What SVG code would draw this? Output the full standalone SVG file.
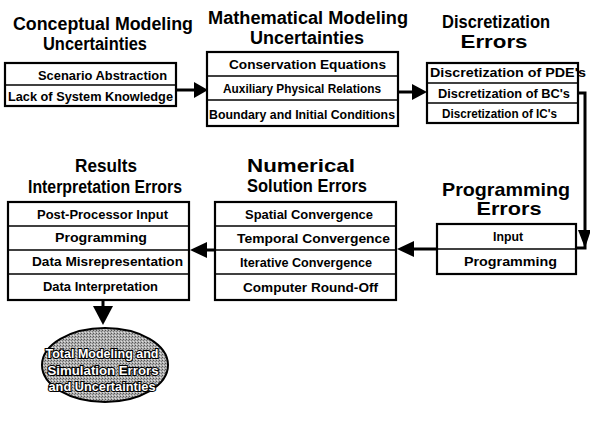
<svg xmlns="http://www.w3.org/2000/svg" width="590" height="423" viewBox="0 0 590 423">
  <style>
    .title { font-family: "Liberation Sans", Arial, sans-serif; font-weight: bold; font-size: 18px; fill: #000; text-anchor: middle; }
    .big { font-size: 19px; }
    .row { font-family: "Liberation Sans", Arial, sans-serif; font-weight: bold; font-size: 13px; fill: #000; }
    .box { fill: #fff; stroke: #000; stroke-width: 2.2; }
    .div { stroke: #000; stroke-width: 1.6; fill: none; }
    .wire { stroke: #000; stroke-width: 3; fill: none; }
    .head { fill: #000; }
    .oval-text { font-family: "Liberation Sans", Arial, sans-serif; font-weight: bold; font-size: 13px; fill: #fff; stroke: #000; stroke-width: 2.2; paint-order: stroke; text-anchor: middle; }
  </style>
  <defs>
    <pattern id="grain" width="3" height="3" patternUnits="userSpaceOnUse">
      <rect width="3" height="3" fill="#b0b0b0"/>
      <rect x="0" y="0" width="1" height="1" fill="#555"/>
      <rect x="2" y="1" width="1" height="1" fill="#777"/>
      <rect x="1" y="2" width="1" height="1" fill="#e0e0e0"/>
    </pattern>
  </defs>
  <rect width="590" height="423" fill="#fff"/>

  <!-- connectors -->
  <g id="connectors">
    <line class="wire" x1="176" y1="90" x2="196" y2="90"/>
    <polygon class="head" points="194,82 208,90 194,98"/>
    <line class="wire" x1="398" y1="92" x2="414" y2="92"/>
    <polygon class="head" points="412,84 427,92 412,100"/>
    <path class="wire" d="M578 93 H585 V248 H576"/>
    <polygon class="head" points="578,230 591,230 585,248"/>
    <line class="wire" x1="437" y1="249" x2="412" y2="249"/>
    <polygon class="head" points="414,241 397,249 414,257"/>
    <line class="wire" x1="215" y1="250" x2="205" y2="250"/>
    <polygon class="head" points="207,242 190,250 207,258"/>
    <line class="wire" x1="103" y1="300" x2="103" y2="308"/>
    <polygon class="head" points="93,306 113,306 103,325"/>
  </g>

  <!-- conceptual modeling -->
  <g id="conceptual">
    <text class="title" x="103" y="30" textLength="180" lengthAdjust="spacingAndGlyphs">Conceptual Modeling</text>
    <text class="title" x="95" y="50" textLength="104" lengthAdjust="spacingAndGlyphs">Uncertainties</text>
    <rect class="box" x="5" y="63" width="171" height="43"/>
    <line class="div" x1="5" y1="85" x2="176" y2="85"/>
    <text class="row" x="38" y="80" textLength="129" lengthAdjust="spacingAndGlyphs">Scenario Abstraction</text>
    <text class="row" x="8" y="101" textLength="165" lengthAdjust="spacingAndGlyphs">Lack of System Knowledge</text>
  </g>

  <!-- mathematical modeling -->
  <g id="mathematical">
    <text class="title" x="308" y="24" textLength="200" lengthAdjust="spacingAndGlyphs">Mathematical Modeling</text>
    <text class="title" x="307" y="44" textLength="114" lengthAdjust="spacingAndGlyphs">Uncertainties</text>
    <rect class="box" x="207" y="52" width="191" height="74"/>
    <line class="div" x1="207" y1="76" x2="398" y2="76"/>
    <line class="div" x1="207" y1="100" x2="398" y2="100"/>
    <text class="row" x="229" y="69" textLength="157" lengthAdjust="spacingAndGlyphs">Conservation Equations</text>
    <text class="row" x="223" y="93" textLength="158" lengthAdjust="spacingAndGlyphs">Auxiliary Physical Relations</text>
    <text class="row" x="209" y="119" textLength="186" lengthAdjust="spacingAndGlyphs">Boundary and Initial Conditions</text>
  </g>

  <!-- discretization -->
  <g id="discretization">
    <text class="title" x="496" y="28" textLength="108" lengthAdjust="spacingAndGlyphs">Discretization</text>
    <text class="title" x="494" y="48" textLength="67" lengthAdjust="spacingAndGlyphs">Errors</text>
    <rect class="box" x="427" y="63" width="151" height="60"/>
    <line class="div" x1="427" y1="83" x2="578" y2="83"/>
    <line class="div" x1="427" y1="103" x2="578" y2="103"/>
    <text class="row" x="430" y="77" textLength="156" lengthAdjust="spacingAndGlyphs">Discretization of PDE's</text>
    <text class="row" x="438" y="98" textLength="132" lengthAdjust="spacingAndGlyphs">Discretization of BC's</text>
    <text class="row" x="442" y="118" textLength="115" lengthAdjust="spacingAndGlyphs">Discretization of IC's</text>
  </g>

  <!-- programming -->
  <g id="programming">
    <text class="title big" x="506" y="196" textLength="128" lengthAdjust="spacingAndGlyphs">Programming</text>
    <text class="title big" x="509" y="215" textLength="65" lengthAdjust="spacingAndGlyphs">Errors</text>
    <rect class="box" x="437" y="224" width="139" height="50"/>
    <line class="div" x1="437" y1="249" x2="576" y2="249"/>
    <text class="row" x="493" y="241" textLength="30" lengthAdjust="spacingAndGlyphs">Input</text>
    <text class="row" x="464" y="266" textLength="93" lengthAdjust="spacingAndGlyphs">Programming</text>
  </g>

  <!-- numerical solution -->
  <g id="numerical">
    <text class="title big" x="301" y="172" textLength="108" lengthAdjust="spacingAndGlyphs">Numerical</text>
    <text class="title" x="307" y="192" textLength="120" lengthAdjust="spacingAndGlyphs">Solution Errors</text>
    <rect class="box" x="215" y="202" width="181" height="98"/>
    <line class="div" x1="215" y1="226" x2="396" y2="226"/>
    <line class="div" x1="215" y1="250" x2="396" y2="250"/>
    <line class="div" x1="215" y1="274" x2="396" y2="274"/>
    <text class="row" x="245" y="219" textLength="128" lengthAdjust="spacingAndGlyphs">Spatial Convergence</text>
    <text class="row" x="237" y="243" textLength="153" lengthAdjust="spacingAndGlyphs">Temporal Convergence</text>
    <text class="row" x="240" y="267" textLength="132" lengthAdjust="spacingAndGlyphs">Iterative Convergence</text>
    <text class="row" x="243" y="292" textLength="135" lengthAdjust="spacingAndGlyphs">Computer Round-Off</text>
  </g>

  <!-- results interpretation -->
  <g id="results">
    <text class="title" x="106" y="172" textLength="62" lengthAdjust="spacingAndGlyphs">Results</text>
    <text class="title" x="105" y="193" textLength="154" lengthAdjust="spacingAndGlyphs">Interpretation Errors</text>
    <rect class="box" x="8" y="202" width="181" height="98"/>
    <line class="div" x1="8" y1="226" x2="189" y2="226"/>
    <line class="div" x1="8" y1="250" x2="189" y2="250"/>
    <line class="div" x1="8" y1="274" x2="189" y2="274"/>
    <text class="row" x="37" y="219" textLength="131" lengthAdjust="spacingAndGlyphs">Post-Processor Input</text>
    <text class="row" x="55" y="242" textLength="92" lengthAdjust="spacingAndGlyphs">Programming</text>
    <text class="row" x="32" y="266" textLength="151" lengthAdjust="spacingAndGlyphs">Data Misrepresentation</text>
    <text class="row" x="43" y="291" textLength="115" lengthAdjust="spacingAndGlyphs">Data Interpretation</text>
  </g>

  <!-- total errors and uncertainties -->
  <g id="total">
    <ellipse cx="105" cy="365" rx="63" ry="37" fill="url(#grain)" stroke="#000" stroke-width="2"/>
    <text class="oval-text" x="102" y="358" textLength="113" lengthAdjust="spacingAndGlyphs">Total Modeling and</text>
    <text class="oval-text" x="103" y="375" textLength="111" lengthAdjust="spacingAndGlyphs">Simulation Errors</text>
    <text class="oval-text" x="102" y="391" textLength="107" lengthAdjust="spacingAndGlyphs">and Uncertainties</text>
  </g>
</svg>
